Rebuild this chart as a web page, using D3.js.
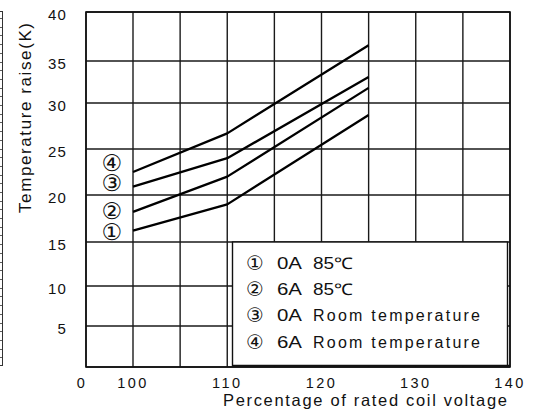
<!DOCTYPE html>
<html>
<head>
<meta charset="utf-8">
<script src="https://cdn.jsdelivr.net/npm/d3@7"></script>
<style>
  html, body { margin: 0; padding: 0; background: #fff; }
  svg { display: block; }
  text { font-family: "Liberation Sans", Arial, sans-serif; fill: #111; }
</style>
</head>
<body>
<svg id="chart" width="533" height="412"></svg>
<script>
// ---- data ----
const xValues = [100, 110, 125];
const series1 = [16.2, 19.0, 28.7];   // ① 0A 85℃
const series2 = [18.2, 22.0, 31.8];   // ② 6A 85℃
const series3 = [20.9, 24.0, 33.1];   // ③ 0A Room temperature
const series4 = [22.5, 26.7, 36.6];   // ④ 6A Room temperature
const seriesMarks = ["①", "②", "③", "④"];
const seriesNames = ["0A  85℃", "6A  85℃", "0A  Room temperature", "6A  Room temperature"];
const markYValues = [16.1, 18.3, 21.3, 23.5];
const xTickLabels = [0, 100, 110, 120, 130, 140];
const xGridValues = [0, 100, 105, 110, 115, 120, 125, 130, 135, 140];
const yTickLabels = [5, 10, 15, 20, 25, 30, 35, 40];
const yGridValues = [0, 5, 10, 15, 20, 25, 30, 35, 40];
const xTitle = "Percentage of rated coil voltage";
const yTitle = "Temperature raise(K)";

const allSeries = [series1, series2, series3, series4];

// ---- scales (broken x axis, hand-drawn y grid) ----
const x = d3.scaleLinear().domain([0, 100, 140]).range([86, 133, 510]);
const y = d3.scaleLinear()
  .domain([0, 5, 10, 15, 20, 25, 30, 35, 40])
  .range([367, 326, 286, 242, 195, 149, 103, 61, 12]);

const svg = d3.select("#chart");

// decorative border of the neighbouring figure at the left edge
const deco = svg.append("g").attr("stroke", "#333").attr("stroke-width", 1);
deco.append("line").attr("x1", 2.5).attr("x2", 2.5).attr("y1", 11).attr("y2", 366);
deco.append("line").attr("x1", 0).attr("x2", 3).attr("y1", 11.5).attr("y2", 11.5);
deco.append("line").attr("x1", 0).attr("x2", 3).attr("y1", 365.5).attr("y2", 365.5);
deco.selectAll("line.t").data(d3.range(18, 362, 8.7)).join("line")
  .attr("class", "t")
  .attr("x1", 0).attr("x2", 2.5)
  .attr("y1", d => Math.round(d) + 0.5).attr("y2", d => Math.round(d) + 0.5)
  .attr("stroke-width", 0.8);

// ---- grid ----
const grid = svg.append("g").attr("stroke", "#1a1a1a").attr("stroke-width", 1.4).attr("fill", "none");
grid.selectAll("line.v").data(xGridValues).join("line")
  .attr("class", "v")
  .attr("x1", d => x(d)).attr("x2", d => x(d))
  .attr("y1", y(40)).attr("y2", y(0));
grid.selectAll("line.h").data(yGridValues).join("line")
  .attr("class", "h")
  .attr("x1", x(0)).attr("x2", x(140))
  .attr("y1", d => y(d)).attr("y2", d => y(d));

// ---- series lines ----
const line = d3.line().x((d, i) => x(xValues[i])).y(d => y(d));
svg.append("g").selectAll("path").data(allSeries).join("path")
  .attr("d", d => line(d))
  .attr("fill", "none")
  .attr("stroke", "#000")
  .attr("stroke-width", 2.3)
  .attr("stroke-linejoin", "round");

// ---- circled series marks in the plot ----
svg.append("g").selectAll("text").data(seriesMarks).join("text")
  .attr("x", x(55))
  .attr("y", (d, i) => y(markYValues[i]))
  .attr("text-anchor", "middle")
  .attr("dominant-baseline", "central")
  .style("font-family", '"DejaVu Sans", "Noto Sans CJK JP", sans-serif')
  .style("font-size", "23px")
  .text(d => d);

// ---- legend box ----
const lg = svg.append("g");
lg.append("rect")
  .attr("x", 232.5).attr("y", y(15))
  .attr("width", 275).attr("height", 124)
  .attr("fill", "#fff").attr("stroke", "#111").attr("stroke-width", 1.4);
// plot frame re-drawn on top (bottom/right give the thick border look)
svg.append("rect")
  .attr("x", x(0)).attr("y", y(40))
  .attr("width", x(140) - x(0)).attr("height", y(0) - y(40))
  .attr("fill", "none").attr("stroke", "#111").attr("stroke-width", 1.6);
lg.append("line").attr("x1", 232.5).attr("x2", 510).attr("y1", 365.5).attr("y2", 365.5)
  .attr("stroke", "#111").attr("stroke-width", 1.6);

const rowY = d3.scalePoint().domain(d3.range(seriesNames.length)).range([263, 341.5]);
lg.selectAll("text.m").data(seriesMarks).join("text")
  .attr("class", "m")
  .attr("x", 255).attr("y", (d, i) => rowY(i))
  .attr("text-anchor", "middle").attr("dominant-baseline", "central")
  .style("font-family", '"DejaVu Sans", "Noto Sans CJK JP", sans-serif')
  .style("font-size", "20px")
  .text(d => d);
const entries = lg.selectAll("text.n").data(seriesNames).join("text")
  .attr("class", "n")
  .attr("y", (d, i) => rowY(i))
  .attr("dominant-baseline", "central")
  .style("font-size", "16px");
entries.each(function(d) {
  const parts = d.split("  ");
  const t = d3.select(this);
  t.append("tspan").attr("x", 277).attr("textLength", 25).attr("lengthAdjust", "spacingAndGlyphs").text(parts[0]);
  const rest = t.append("tspan").attr("x", 313).text(parts[1]);
  if (parts[1].length > 5) rest.attr("textLength", 167).attr("lengthAdjust", "spacing");
  else rest.attr("textLength", 40).attr("lengthAdjust", "spacingAndGlyphs");
});

// ---- axis tick labels ----
svg.append("g").selectAll("text").data(yTickLabels).join("text")
  .attr("x", 67)
  .attr("y", d => y(d) + 2)
  .attr("text-anchor", "end")
  .attr("dominant-baseline", "central")
  .style("font-size", "15px")
  .style("letter-spacing", "1.2px")
  .text(d => d);

svg.append("g").selectAll("text").data(xTickLabels).join("text")
  .attr("x", d => x(d) - (d === 0 ? 4 : 0))
  .attr("y", 388)
  .attr("text-anchor", "middle")
  .style("font-size", "14.5px")
  .style("letter-spacing", "2.4px")
  .text(d => d);

// ---- axis titles ----
svg.append("text")
  .attr("x", 223).attr("y", 406)
  .attr("textLength", 284).attr("lengthAdjust", "spacing")
  .style("font-size", "16.5px")
  .text(xTitle);

svg.append("text")
  .attr("transform", "translate(31,118) rotate(-90)")
  .attr("x", 0).attr("y", 0)
  .attr("text-anchor", "middle")
  .attr("textLength", 190).attr("lengthAdjust", "spacing")
  .style("font-size", "17px")
  .text(yTitle);
</script>
</body>
</html>
